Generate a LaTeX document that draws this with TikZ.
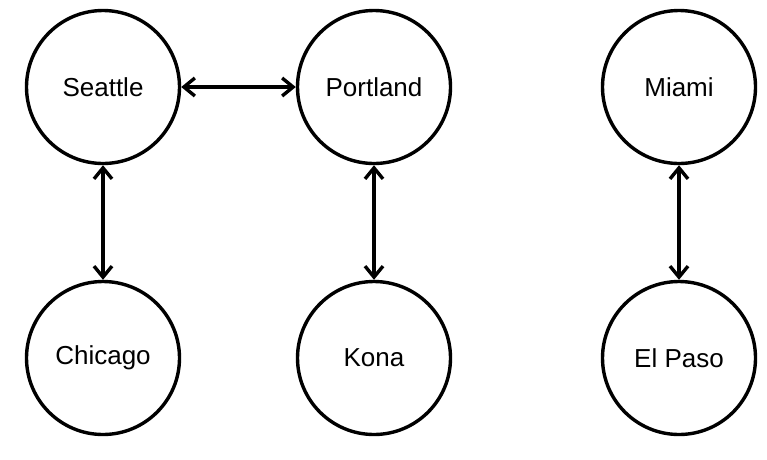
\documentclass[tikz,border=0pt]{standalone}
\usepackage{fontspec}
\setmainfont{Liberation Sans}
\usetikzlibrary{arrows.meta}
\begin{document}
\begin{tikzpicture}[x=1pt,y=-1pt,
  city/.style={circle,draw=black,line width=3.4pt,minimum size=153pt,inner sep=0pt,font=\fontsize{26}{30}\selectfont},
  tip/.style={Straight Barb[length=11pt,width=18pt,line width=3.4pt]},
  link/.style={line width=3.4pt,{Straight Barb[length=11pt,width=18pt]}-{Straight Barb[length=11pt,width=18pt]}}]
\fill[white] (0,0) rectangle (767,459);
\useasboundingbox (0,0) rectangle (767,459);
\node[city] (sea) at (103,87) {Seattle};
\node[city] (por) at (374,87) {Portland};
\node[city] (mia) at (679,87) {Miami};
\node[city] (chi) at (103,358) {Chicago};
\node[city] (kon) at (374,358) {Kona};
\node[city] (elp) at (679,358) {El Paso};
\draw[link] (sea) -- (por);
\draw[link] (sea) -- (chi);
\draw[link] (por) -- (kon);
\draw[link] (mia) -- (elp);
\end{tikzpicture}
\end{document}
